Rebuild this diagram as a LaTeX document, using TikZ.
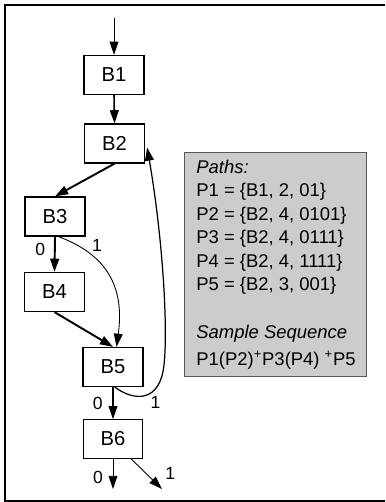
\documentclass[tikz,border=0pt]{standalone}
\usepackage{fontspec}
\setmainfont{Liberation Sans}
\usetikzlibrary{arrows.meta,positioning}
\tikzset{blockbox/.style={draw,rectangle,line width=0.9pt,minimum width=34pt,minimum height=22pt,inner sep=0,font=\fontsize{11.5}{13}\selectfont},
    lightbox/.style={blockbox,line width=0.5pt},
    flow/.style={-{Triangle[length=7.5pt,width=5pt]}},
    edgelabel/.style={font=\fontsize{10}{12}\selectfont,inner sep=2pt},
    pathpanel/.style={draw=black!65,fill=black!20,line width=0.6pt,rectangle,inner sep=0}
}

\begin{document}
\begin{tikzpicture}[x=0.02cm,y=-0.02cm]
\useasboundingbox (0,0) rectangle (385,502);

% frame, open at the right
\draw [line width=1.1pt] (385,5) -- (5,5) -- (5,501) -- (385,501);

% basic blocks
\node (B1) at (114,75) [blockbox] {B1};
\node (B2) at (114.5,143.5) [blockbox] {B2};
\node (B3) at (55,216.5) [blockbox] {B3};
\node (B4) at (54.5,292) [blockbox] {B4};
\node (B5) at (113,367) [blockbox] {B5};
\node (B6) at (113,439) [lightbox] {B6};

\coordinate (entry) at (114,18);
\coordinate (out0) at (113,489);
\coordinate (out1) at (162,489);
\coordinate (loopturn) at (164,365);

% control flow
\draw [flow,line width=0.5pt] (entry) -- (B1.north);
\draw [flow,line width=0.9pt] (B1.south) -- (B2.north);
\draw [flow,line width=1.1pt] (B2.south) -- (B3.north);
\draw [flow,line width=1.1pt] (B3.south) -- (B4.north) node [edgelabel,pos=0.37,left=3pt] (lab30) {0};
\draw [flow,line width=0.5pt] ([xshift=2pt]B3.south) .. controls (105,254) and (125,285) .. ([xshift=2pt]B5.north) node [edgelabel,pos=0.15,right=6pt] (lab31) {1};
\draw [flow,line width=1.1pt] (B4.south) -- (B5.north);
\draw [flow,line width=0.7pt] (B5.south) -- (B6.north) node [edgelabel,pos=0.5,left=3.5pt] (lab50) {0};
\draw [flow,line width=0.7pt] ([xshift=1pt]B5.south) .. controls (135,402) and (160,402) .. (loopturn) node [edgelabel,pos=0.7,below=2pt] (lab51) {1}
    .. controls (168,328) and (163,240) .. ([shift={(2,4)}]B2.east);
\draw [flow,line width=0.5pt] (B6.south) -- (out0) node [edgelabel,pos=0.62,left=3.5pt] (lab60) {0};
\draw [flow,line width=0.5pt] ([shift={(18,0)}]B6.south) -- (out1) node [edgelabel,pos=0.5,right=8.5pt] (lab61) {1};

% path list
\node (pathbox) at (184,152) [pathpanel,anchor=north west,minimum width=103.8pt,minimum height=127.6pt] {};
\node (pathtext) at (196,159.5) [anchor=north west,align=left,inner sep=0,font=\fontsize{10.5}{13.4}\selectfont]
    {\textit{Paths:}\\
     P1 = \{B1, 2, 01\}\\
     P2 = \{B2, 4, 0101\}\\
     P3 = \{B2, 4, 0111\}\\
     P4 = \{B2, 4, 1111\}\\
     P5 = \{B2, 3, 001\}\\[13.4pt]
     \textit{Sample Sequence}\\[2pt]
     P1(P2)\textsuperscript{+}P3(P4) \textsuperscript{+}P5};

\end{tikzpicture}
\end{document}
